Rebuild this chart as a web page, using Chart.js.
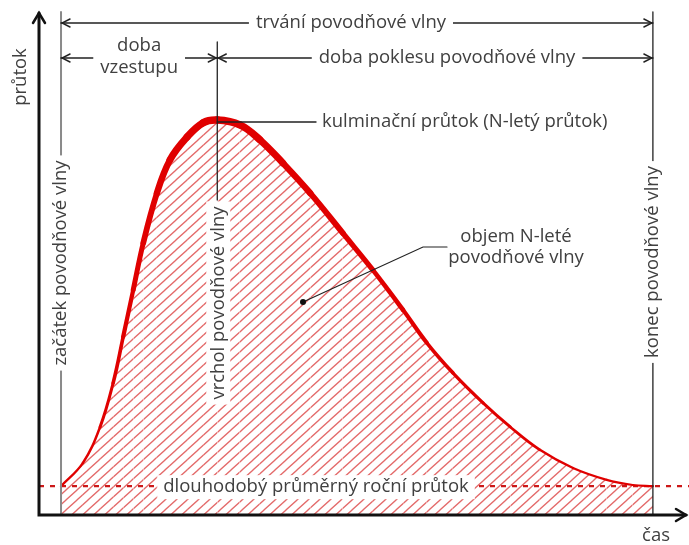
<!DOCTYPE html>
<html>
<head>
<meta charset="utf-8">
<script src="https://cdn.jsdelivr.net/npm/chart.js@4"></script>
<style>
body { margin: 0; background: #fff; }
</style>
</head>
<body>
<canvas id="hydrograf" width="689" height="545"></canvas>
<script>
// hodnoty (cas 0 = zacatek vlny, 100 = konec vlny; prutok 100 = kulminace)
var cas    = [0, 3.7, 6.6, 8.8, 10.5, 12.2, 13.9, 16.2, 18.4, 21.3, 24.0, 26.4, 30.2, 33.6, 37.5, 42.1, 47.6, 52.7, 57.8, 61.8, 66.2, 71.3, 75.9, 80.9, 86.5, 92.2, 96.6, 100];
var prutok = [7.3, 13.2, 22.3, 33.4, 45.1, 57.0, 68.9, 81.5, 89.9, 95.7, 99.3, 100, 98.8, 95.0, 89.1, 81.5, 71.4, 62.0, 51.9, 43.6, 36.0, 28.4, 22.3, 16.5, 11.9, 8.9, 7.6, 7.3];
var prumernyPrutok = 7.3;
var zacatek = 0, vrchol = 26.4, konec = 100;

var font = '18.5px "Open Sans"';
var barvaTextu = '#404040';

// srafovani plochy pod krivkou
var dlazdice = document.createElement('canvas');
dlazdice.width = 11; dlazdice.height = 10;
var dc = dlazdice.getContext('2d');
dc.strokeStyle = 'rgba(222,80,80,0.85)';
dc.lineWidth = 1.3;
dc.beginPath();
dc.moveTo(0, 10); dc.lineTo(11, 0);
dc.moveTo(-1.1, 1); dc.lineTo(1.1, -1);
dc.moveTo(9.9, 11); dc.lineTo(12.1, 9);
dc.stroke();

var canvas = document.getElementById('hydrograf');
var srafy = canvas.getContext('2d').createPattern(dlazdice, 'repeat');

var body = [];
for (var i = 0; i < cas.length; i++) body.push({x: cas[i], y: prutok[i]});

function napis(c, s, x, y, rot, bg, align) {
  c.save();
  c.translate(x, y);
  if (rot) c.rotate(-Math.PI / 2);
  c.font = font;
  c.textAlign = align || 'center';
  c.textBaseline = 'middle';
  if (bg) {
    var w = c.measureText(s).width;
    var l = (align === 'left') ? -bg : -w / 2 - bg;
    c.fillStyle = '#fff';
    c.fillRect(l, -12, w + 2 * bg, 24);
  }
  c.fillStyle = barvaTextu;
  c.fillText(s, 0, 0);
  c.restore();
}

function sipka(c, x, y, smer, delka, sirka) {
  // smer: 'l', 'r', 'u'
  c.beginPath();
  if (smer === 'l') { c.moveTo(x + delka, y - sirka); c.lineTo(x, y); c.lineTo(x + delka, y + sirka); }
  if (smer === 'r') { c.moveTo(x - delka, y - sirka); c.lineTo(x, y); c.lineTo(x - delka, y + sirka); }
  if (smer === 'u') { c.moveTo(x - sirka, y + delka); c.lineTo(x, y); c.lineTo(x + sirka, y + delka); }
  c.stroke();
}

function kota(c, x1, x2, y) {
  c.beginPath(); c.moveTo(x1, y); c.lineTo(x2, y); c.stroke();
  sipka(c, x1 + 1, y, 'l', 8, 4);
  sipka(c, x2 - 1, y, 'r', 8, 4);
}

var popisky = {
  id: 'popisky',
  afterDatasetsDraw: function(chart) {
    var c = chart.ctx, xs = chart.scales.x, ys = chart.scales.y, a = chart.chartArea;
    var x0 = xs.getPixelForValue(zacatek), xv = xs.getPixelForValue(vrchol), x1 = xs.getPixelForValue(konec);
    var yv = ys.getPixelForValue(Math.max.apply(null, prutok));
    var yq = ys.getPixelForValue(prumernyPrutok);
    c.save();
    c.lineCap = 'round';

    // svisle cary
    c.strokeStyle = '#8a8a8a'; c.lineWidth = 2;
    c.beginPath(); c.moveTo(x0, a.top + 12); c.lineTo(x0, a.bottom); c.stroke();
    c.strokeStyle = '#222'; c.lineWidth = 1.3;
    c.beginPath(); c.moveTo(x1, a.top + 12); c.lineTo(x1, a.bottom); c.stroke();
    c.beginPath(); c.moveTo(xv, a.top + 42); c.lineTo(xv, 200); c.stroke();

    // osy
    c.strokeStyle = '#111'; c.lineWidth = 3;
    c.beginPath(); c.moveTo(a.left, a.top + 13); c.lineTo(a.left, a.bottom); c.lineTo(a.right - 3, a.bottom); c.stroke();
    c.lineWidth = 2.5;
    sipka(c, a.left, a.top + 13, 'u', 10, 6);
    sipka(c, a.right - 3, a.bottom, 'r', 10, 6);

    // koty
    c.strokeStyle = '#222'; c.lineWidth = 1.4;
    kota(c, x0, x1, a.top + 23);
    kota(c, x0, xv, a.top + 58);
    kota(c, xv, x1, a.top + 58);

    // odkaz na kulminaci
    c.lineWidth = 1.4;
    c.beginPath(); c.moveTo(xv, yv + 2); c.lineTo(316, yv + 2); c.stroke();

    // odkaz na objem
    c.lineWidth = 1.2;
    c.beginPath(); c.moveTo(303, 302); c.lineTo(423, 247); c.lineTo(447, 247); c.stroke();
    c.fillStyle = '#111';
    c.beginPath(); c.arc(303, 302, 3, 0, 2 * Math.PI); c.fill();

    // texty
    napis(c, 'trvání povodňové vlny', (x0 + x1) / 2 - 6, a.top + 23, false, 7);
    napis(c, 'doba', (x0 + xv) / 2, a.top + 46, false, 7);
    napis(c, 'vzestupu', (x0 + xv) / 2, a.top + 68, false, 7);
    napis(c, 'doba poklesu povodňové vlny', (xv + x1) / 2 + 12, a.top + 58, false, 7);
    napis(c, 'kulminační průtok (N-letý průtok)', 322, yv + 2, false, 0, 'left');
    napis(c, 'objem N-leté', 516, 237);
    napis(c, 'povodňové vlny', 516, 258);
    napis(c, 'začátek povodňové vlny', x0, 263, true, 5);
    napis(c, 'vrchol povodňové vlny', xv + 1, 303, true, 5);
    napis(c, 'konec povodňové vlny', x1, 262, true, 5);
    napis(c, 'dlouhodobý průměrný roční průtok', 316, yq + 1, false, 6);
    napis(c, 'průtok', 21, a.top + 77, true);
    napis(c, 'čas', 656, 536);
    c.restore();
  }
};

var xMin = -3.72, xMax = 106.1;

new Chart(canvas, {
  type: 'line',
  data: {
    datasets: [{
      label: 'průtok',
      data: body,
      borderColor: '#e00000',
      borderWidth: 3,
      borderCapStyle: 'round',
      borderJoinStyle: 'round',
      backgroundColor: srafy,
      fill: 'origin',
      pointRadius: 0,
      tension: 0.4,
      segment: {
        borderWidth: function(ctx) {
          var q = (ctx.p0.parsed.y + ctx.p1.parsed.y) / 2;
          return 2 + 5.5 * Math.pow(q / 100, 1.3);
        }
      }
    }, {
      label: 'dlouhodobý průměrný roční průtok',
      data: [{x: xMin, y: prumernyPrutok}, {x: xMax, y: prumernyPrutok}],
      borderColor: '#cc1818',
      borderWidth: 2.2,
      borderDash: [5, 6],
      pointRadius: 0,
      fill: false
    }]
  },
  options: {
    responsive: false,
    animation: false,
    layout: { padding: { left: 39, right: 0, top: 0, bottom: 30 } },
    plugins: { legend: { display: false }, tooltip: { enabled: false } },
    scales: {
      x: { type: 'linear', min: xMin, max: xMax, display: false },
      y: { min: 0, max: 130.4, display: false }
    }
  },
  plugins: [popisky]
});
</script>
</body>
</html>
